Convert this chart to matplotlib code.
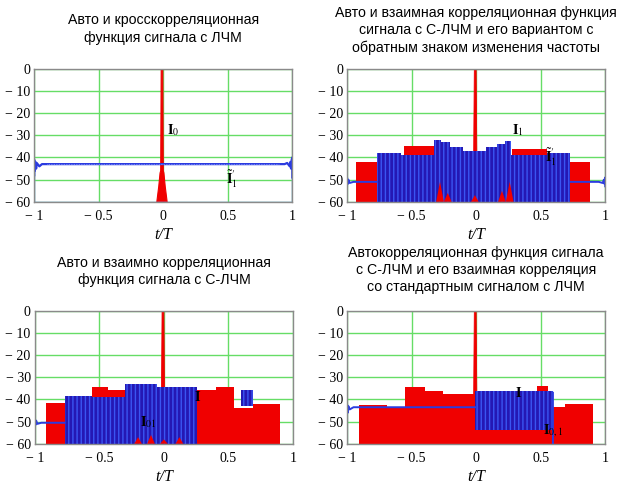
import numpy as np
import matplotlib
matplotlib.use('Agg')
import matplotlib.pyplot as plt

plt.rcParams['mathtext.fontset'] = 'stix'
plt.rcParams['hatch.linewidth'] = 1.0

RED = '#f00000'
BLUE = '#2418b4'
STRIPE = '#3a55f2'
LINE = '#2b3be0'

titles = [
    'Авто и кросскорреляционная\nфункция сигнала с ЛЧМ',
    'Авто и взаимная корреляционная функция\nсигнала с С-ЛЧМ и его вариантом с\nобратным знаком изменения частоты',
    'Авто и взаимно корреляционная\nфункция сигнала с С-ЛЧМ',
    'Автокорреляционная функция сигнала\nс С-ЛЧМ и его взаимная корреляция\nсо стандартным сигналом с ЛЧМ',
]

xticks = [-1, -0.5, 0, 0.5, 1]
xtick_labels = ['\u2212 1', '\u2212 0.5', '0', '0.5', '1']
yticks = [0, -10, -20, -30, -40, -50, -60]
ytick_labels = ['0'] + ['\u2212 %d' % abs(v) for v in yticks[1:]]

# --- panel 1: LFM auto / cross correlation
p1_spike_x = [-0.05, -0.035, -0.025, -0.02, -0.016, -0.004, 0.0, 0.005, 0.015, 0.03]
p1_spike_y = [-60, -53, -47, -46, 0, 0, -46, -47, -53, -60]
p1_line_x = [-1, -1, -0.995, -0.99, -0.985, -0.98, -0.96, -0.94, -0.9,
             0.9, 0.94, 0.96, 0.98, 0.985, 0.99, 0.995, 1, 1]
p1_line_y = [-48, -41, -46, -42, -45, -42.5, -44, -43, -43,
             -43, -43, -42.5, -44, -42, -45, -41, -40, -49]

# --- panel 2
p2_red_x = [-0.93, -0.77, -0.56, -0.3, 0.28, 0.55, 0.72, 0.88]
p2_red_y = [-42, -40, -35, -40, -36, -40, -42]
p2_band_x = [-0.77, -0.58, -0.33, -0.27, -0.2, -0.1, 0.0, 0.08, 0.16, 0.22, 0.27, 0.55, 0.73]
p2_band_top = [-38, -39, -32, -33, -35.5, -37, -37, -35.5, -34, -32.5, -39, -38]
p2_band_bot = [-60] * 12
p2_bump_x = [-0.28, -0.22, -0.01, 0.2, 0.26]
p2_bump_y = [-51, -56, -57, -55, -51]
p2_line_x = [-1, -1, -0.995, -0.99, -0.98, -0.95, -0.77, np.nan,
             0.73, 0.95, 0.98, 0.99, 0.995, 1, 1]
p2_line_y = [-53, -49, -52, -50, -51.5, -51, -51, np.nan,
             -51, -51, -51.5, -50, -52, -49, -53]

# --- panel 3
p3_red_x = [-0.91, -0.77, -0.56, -0.43, -0.3, 0.26, 0.4, 0.54, 0.69, 0.9]
p3_red_y = [-41.5, -40, -34.3, -35.6, -40, -35.8, -34.5, -43.8, -42]
p3_band_x = [-0.77, -0.56, -0.3, -0.05, 0.26, 0.54, 0.6, 0.69]
p3_band_top = [-38.5, -39, -33, -34.5, -40, np.nan, -35.8]
p3_band_bot = [-60, -60, -60, -60, -60, np.nan, -43]
p3_bump_x = [-0.2, -0.1, 0.0, 0.12]
p3_bump_y = [-57, -56, -58, -57]
p3_line_x = [-1, -1, -0.995, -0.99, -0.98, -0.95, -0.77]
p3_line_y = [-60, -48, -51.5, -49.5, -51, -50.5, -50.5]

# --- panel 4
p4_red_x = [-0.905, -0.69, -0.555, -0.4, -0.26, -0.01, 0.47, 0.555, 0.595, 0.685, 0.905]
p4_red_y = [-42.6, -43.8, -34.5, -36, -37.7, -36.5, -34, -36.5, -43.3, -42.1]
p4_band_x = [-0.005, 0.595]
p4_band_top = [-36.3]
p4_band_bot = [-53.8]
p4_line_x = [-1, -1, -0.995, -0.99, -0.98, -0.95, -0.005, np.nan, 0.595, 0.595]
p4_line_y = [-60, -42, -46, -43, -44.5, -43.5, -43.5, np.nan, -37, -60]

spike_x = [-0.022, -0.014, 0.0, 0.008]
spike_y = [-60, 0, 0, -60]

labels = [
    [(r'$\mathbf{I}_0$', 0.08, -27.5), (r"$\tilde{\mathbf{I}}_1^{\prime}$", 0.53, -50)],
    [(r'$\mathbf{I}_1$', 0.32, -27.5), (r"$\tilde{\mathbf{I}}_1^{\prime}$", 0.58, -40)],
    [(r'$\mathbf{I}$', 0.26, -38.8), (r'$\mathbf{I}_{01}$', -0.12, -50)],
    [(r'$\mathbf{I}$', 0.33, -37), (r'$\mathbf{I}_{0,1}$', 0.6, -54)],
]


def red_steps(ax, x, y):
    ax.fill_between(x, list(y) + [y[-1]], -60, step='post', color=RED, lw=0)


def blue_band(ax, x, top, bot):
    ax.fill_between(x, list(bot) + [bot[-1]], list(top) + [top[-1]], step='post',
                    facecolor=BLUE, edgecolor=STRIPE, hatch='||||', lw=0)


def bumps(ax, cx, cy):
    for c, h in zip(cx, cy):
        ax.fill([c - 0.03, c, c + 0.03], [-60, h, -60], color=RED, lw=0)


fig = plt.figure(figsize=(6.22, 4.84), dpi=100)
boxes = [(0.055, 0.583), (0.558, 0.583), (0.056, 0.083), (0.558, 0.083)]
title_y = [0.940, 0.937, 0.439, 0.442]
axes = []
for i, (l, b) in enumerate(boxes):
    ax = fig.add_axes([l, b, 0.415, 0.275])
    ax.set_xlim(-1, 1)
    ax.set_ylim(-60, 0)
    ax.set_xticks(xticks)
    ax.set_xticklabels(xtick_labels, family='Liberation Serif', fontsize=10)
    ax.set_yticks(yticks)
    ax.set_yticklabels(ytick_labels, family='Liberation Serif', fontsize=10)
    ax.tick_params(axis='x', length=0, pad=6)
    ax.tick_params(axis='y', length=0, pad=3)
    ax.grid(color='#66dd66', lw=1)
    ax.set_axisbelow(True)
    for s in ax.spines.values():
        s.set_color('#8a8a8a')
        s.set_linewidth(1)
    ax.set_xlabel('t/T', family='Liberation Serif', style='italic', fontsize=11.5, labelpad=3)
    fig.text(l + 0.2075, title_y[i], titles[i], family='Liberation Sans', fontsize=10.2,
             ha='center', va='center', linespacing=1.3)
    axes.append(ax)

# panel 1
ax = axes[0]
ax.plot([-1, -1, 1, 1], [-43, -60, -60, -43], color='#6f7dff', lw=1)
ax.fill(p1_spike_x, p1_spike_y, color=RED, lw=0.8)
ax.plot(p1_line_x, p1_line_y, color=LINE, lw=1.6)
ax.plot([-0.9, 0.9], [-43, -43], color='#8fa0ff', lw=0.6, ls=(0, (1, 1)))

# panel 2
ax = axes[1]
red_steps(ax, p2_red_x, p2_red_y)
ax.fill(spike_x, spike_y, color=RED, lw=0.6)
blue_band(ax, p2_band_x, p2_band_top, p2_band_bot)
bumps(ax, p2_bump_x, p2_bump_y)
ax.plot(p2_line_x, p2_line_y, color=LINE, lw=1.4)

# panel 3
ax = axes[2]
red_steps(ax, p3_red_x, p3_red_y)
ax.fill(spike_x, spike_y, color=RED, lw=0.6)
blue_band(ax, p3_band_x, p3_band_top, p3_band_bot)
bumps(ax, p3_bump_x, p3_bump_y)
ax.plot(p3_line_x, p3_line_y, color=LINE, lw=1.4)

# panel 4
ax = axes[3]
red_steps(ax, p4_red_x, p4_red_y)
ax.fill(spike_x, spike_y, color=RED, lw=0.6)
blue_band(ax, p4_band_x, p4_band_top, p4_band_bot)
ax.plot(p4_line_x, p4_line_y, color=LINE, lw=1.4)

for ax, labs in zip(axes, labels):
    for txt, x, y in labs:
        ax.text(x, y, txt, fontsize=10, ha='center', va='center', color='black')

fig.savefig('out.png', dpi=100)
